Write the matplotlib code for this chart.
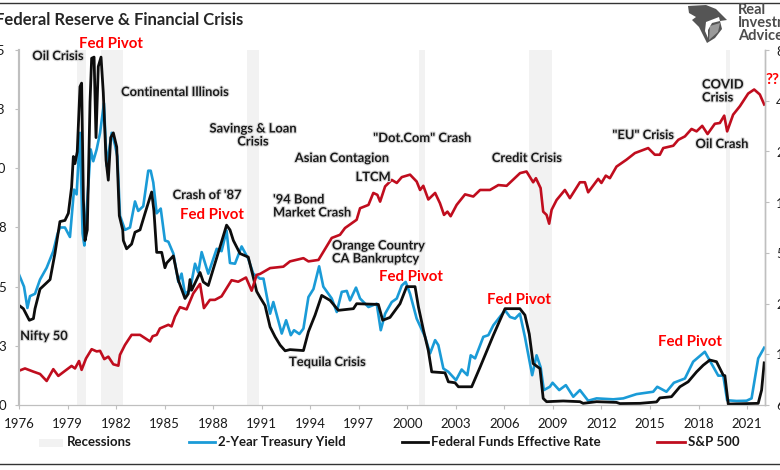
import matplotlib
matplotlib.use('Agg')
import matplotlib.pyplot as plt
import matplotlib.patheffects as pe
from matplotlib.lines import Line2D
from matplotlib.patches import Polygon, Rectangle

plt.rcParams['font.family'] = ['Lato', 'DejaVu Sans']

###------------------------- data -----------------------------------------------###
fed_year = [1976.02, 1976.27, 1976.64, 1976.89, 1976.99, 1977.30, 1977.92, 1978.22, 1978.53, 1978.84,
            1979.05, 1979.25, 1979.36, 1979.46, 1979.60, 1979.77, 1979.87, 1979.98, 1980.08, 1980.22,
            1980.39, 1980.49, 1980.64, 1980.76, 1980.90, 1981.07, 1981.21, 1981.38, 1981.52, 1981.67,
            1981.83, 1982.04, 1982.20, 1982.41, 1982.45, 1982.65, 1982.96, 1983.17, 1983.48, 1983.79,
            1984.20, 1984.34, 1984.51, 1984.82, 1985.02, 1985.13, 1985.54, 1985.85, 1986.26, 1986.46,
            1986.57, 1986.67, 1987.19, 1987.39, 1987.70, 1988.01, 1988.42, 1988.83, 1989.04, 1989.25,
            1989.66, 1990.17, 1990.48, 1990.69, 1990.89, 1991.21, 1991.52, 1991.83, 1992.14, 1992.45,
            1992.75, 1993.58, 1993.89, 1994.30, 1994.71, 1995.23, 1995.74, 1996.67, 1996.87, 1998.21,
            1998.48, 1998.93, 1999.55, 1999.96, 2000.48, 2000.69, 2001.00, 2001.30, 2001.51, 2002.33,
            2002.54, 2002.95, 2003.16, 2003.98, 2004.50, 2005.32, 2006.04, 2006.96, 2007.27, 2007.54,
            2007.78, 2008.20, 2008.40, 2008.61, 2009.64, 2010.67, 2010.87, 2011.70, 2012.93, 2013.14,
            2014.38, 2015.41, 2015.61, 2016.33, 2016.85, 2017.36, 2017.88, 2018.29, 2018.70, 2019.11,
            2019.53, 2019.63, 2019.84, 2021.69, 2021.90, 2022.06]
fed_rate = [4.2, 4.07, 3.58, 3.65, 4.07, 4.9, 5.3, 6.4, 7.75, 7.8,
            8.1, 9.2, 10.5, 10.2, 10.7, 13.45, 13.6, 8.7, 6.95, 7.4,
            12.8, 14.65, 14.7, 11.3, 14.3, 14.7, 13.2, 10.35, 9.5, 11.3,
            11.5, 10.9, 8.0, 7.4, 6.95, 6.6, 6.8, 7.3, 7.4, 8.1,
            9.0, 8.2, 6.45, 6.45, 5.8, 6.0, 6.3, 5.27, 4.5, 4.7,
            5.3, 4.85, 5.6, 5.2, 5.05, 5.75, 6.67, 7.6, 7.4, 6.95,
            6.4, 6.25, 5.4, 4.8, 4.56, 4.2, 3.3, 2.88, 2.53, 2.29,
            2.34, 2.3, 3.1, 3.8, 4.63, 4.42, 4.0, 4.07, 4.28, 4.25,
            3.58, 3.7, 4.28, 5.0, 5.0, 4.14, 3.16, 2.3, 1.4, 1.36,
            0.98, 0.94, 0.77, 0.77, 1.6, 2.95, 4.07, 4.07, 3.8, 3.0,
            1.75, 1.54, 0.28, 0.14, 0.17, 0.14, 0.07, 0.14, 0.11, 0.06,
            0.07, 0.13, 0.3, 0.35, 0.77, 0.98, 1.4, 1.68, 1.9, 1.83,
            1.26, 1.24, 0.04, 0.07, 0.63, 1.78]

yield_year = [1976.02, 1976.31, 1976.52, 1976.68, 1976.99, 1977.30, 1977.71, 1978.12, 1978.37, 1978.53,
              1978.84, 1979.15, 1979.40, 1979.56, 1979.77, 1979.93, 1980.04, 1980.43, 1980.59, 1980.80,
              1981.01, 1981.25, 1981.42, 1981.73, 1981.93, 1982.08, 1982.24, 1982.55, 1982.86, 1983.17,
              1983.37, 1983.68, 1983.99, 1984.14, 1984.30, 1984.51, 1984.76, 1985.02, 1985.23, 1985.54,
              1985.85, 1986.05, 1986.26, 1986.57, 1986.88, 1987.08, 1987.29, 1987.70, 1988.22, 1988.52,
              1988.83, 1989.04, 1989.35, 1989.76, 1990.17, 1990.48, 1990.89, 1991.11, 1991.52, 1991.72,
              1992.24, 1992.51, 1992.80, 1993.00, 1993.33, 1993.58, 1993.89, 1994.20, 1994.55, 1994.81,
              1995.33, 1995.64, 1995.95, 1996.26, 1996.46, 1996.83, 1997.08, 1997.60, 1998.11, 1998.36,
              1998.63, 1999.04, 1999.35, 1999.66, 1999.90, 2000.17, 2000.58, 2001.10, 2001.41, 2001.72,
              2001.92, 2002.23, 2002.54, 2003.01, 2003.36, 2003.71, 2003.92, 2004.19, 2004.70, 2005.01,
              2005.32, 2006.04, 2006.35, 2006.66, 2006.96, 2007.27, 2007.72, 2007.99, 2008.24, 2008.44,
              2008.81, 2008.98, 2009.39, 2009.80, 2010.26, 2010.67, 2011.18, 2011.70, 2012.73, 2013.35,
              2014.17, 2015.20, 2015.45, 2016.02, 2016.48, 2017.16, 2017.67, 2018.39, 2018.80, 2019.22,
              2019.53, 2019.77, 2020.35, 2020.97, 2021.28, 2021.69, 2022.06]
yield_2y = [5.48, 5.0, 4.1, 4.6, 4.7, 5.3, 5.8, 6.5, 7.2, 7.5,
            7.5, 7.1, 9.1, 8.9, 11.5, 7.25, 6.74, 10.8, 10.3, 10.8,
            11.5, 12.75, 10.1, 11.5, 11.0, 10.5, 8.0, 7.4, 7.5, 8.6,
            8.2, 8.4, 9.9, 9.9, 9.4, 8.1, 8.3, 6.95, 6.9, 6.4,
            5.2, 5.55, 4.7, 4.85, 5.97, 5.6, 6.46, 5.55, 6.6, 6.5,
            7.37, 6.0, 5.97, 6.7, 6.18, 5.55, 5.34, 5.34, 3.86, 4.35,
            3.02, 3.58, 2.95, 3.16, 3.0, 3.23, 4.56, 4.9, 5.86, 5.0,
            4.5, 3.93, 4.78, 4.82, 4.42, 4.96, 4.5, 4.14, 4.28, 3.16,
            3.86, 4.35, 4.5, 5.05, 5.2, 4.7, 3.65, 2.88, 2.18, 2.74,
            2.53, 1.54, 1.4, 1.05, 1.5, 1.26, 2.1, 1.97, 2.88, 2.95,
            3.37, 4.0, 3.72, 3.65, 3.86, 2.88, 1.26, 2.1, 1.6, 0.63,
            0.77, 0.94, 0.63, 0.84, 0.35, 0.63, 0.18, 0.28, 0.24, 0.28,
            0.46, 0.56, 0.77, 0.56, 0.94, 1.12, 1.83, 2.25, 1.75, 1.24,
            1.24, 0.2, 0.17, 0.18, 0.28, 1.97, 2.42]

spx_year = [1976.02, 1976.37, 1976.89, 1977.30, 1977.71, 1978.12, 1978.43, 1978.84, 1979.25, 1979.46,
            1979.71, 1979.87, 1980.14, 1980.49, 1980.80, 1981.01, 1981.27, 1981.52, 1981.83, 1982.14,
            1982.24, 1982.55, 1982.96, 1983.48, 1984.10, 1984.26, 1984.51, 1984.71, 1985.23, 1985.43,
            1985.64, 1985.95, 1986.36, 1986.77, 1987.19, 1987.43, 1987.80, 1988.11, 1988.52, 1989.14,
            1989.55, 1990.03, 1990.38, 1990.69, 1990.90, 1991.52, 1992.34, 1992.75, 1993.58, 1993.89,
            1994.51, 1995.33, 1995.84, 1996.15, 1996.87, 1997.08, 1997.60, 1997.90, 1998.15, 1998.32,
            1998.63, 1999.04, 1999.35, 1999.66, 2000.17, 2000.58, 2000.79, 2000.99, 2001.30, 2001.72,
            2002.02, 2002.27, 2002.48, 2002.68, 2003.05, 2003.57, 2004.08, 2004.50, 2005.11, 2005.63,
            2006.14, 2006.97, 2007.37, 2007.78, 2007.95, 2008.24, 2008.40, 2008.61, 2008.77, 2008.92,
            2009.23, 2009.74, 2010.05, 2010.67, 2010.98, 2011.18, 2011.80, 2012.00, 2012.27, 2012.52,
            2012.93, 2013.55, 2014.07, 2014.89, 2015.30, 2015.61, 2015.82, 2016.44, 2016.75, 2017.16,
            2017.57, 2017.88, 2018.23, 2018.56, 2019.01, 2019.32, 2019.59, 2019.77, 2020.14, 2020.56,
            2021.07, 2021.44, 2021.79, 2022.06]
spx = [100, 103, 98.6, 95.5, 86.8, 102, 93, 99.6, 106.6, 103,
       114, 101, 118, 134, 130, 131, 117, 121, 109, 107,
       124, 142, 163, 163, 149, 160, 163, 178, 187, 183,
       209, 238, 231, 287, 327, 235, 263, 263, 276, 344,
       337, 357, 298, 370, 375, 406, 414, 445, 465, 445,
       454, 613, 640, 702, 786, 920, 963, 1134, 1105, 1007,
       1240, 1355, 1300, 1408, 1456, 1325, 1181, 1250, 1037, 1134,
       985, 840, 878, 825, 963, 1112, 1080, 1181, 1181, 1263,
       1250, 1487, 1520, 1312, 1387, 1212, 878, 840, 745, 900,
       1030, 1181, 1056, 1312, 1312, 1144, 1375, 1300, 1437, 1387,
       1625, 1787, 1956, 2094, 1912, 1912, 2094, 2162, 2344, 2456,
       2719, 2631, 2837, 2537, 2919, 2950, 3262, 2631, 3306, 3712,
       4412, 4662, 4356, 3800]

recession_start = [1979.60, 1981.07, 1990.09, 2000.73, 2007.52, 2019.67]
recession_end = [1980.12, 1982.45, 1990.83, 2001.10, 2008.96, 2019.94]

year_ticks = list(range(1976, 2022, 3))
rate_ticks = [0, 2.5, 5, 7.5, 10, 12.5, 15]
rate_labels = ['0', '3', '5', '8', '10', '13', '15']
spx_ticks = [62.5, 125, 250, 500, 1000, 2000, 4000, 8000]
spx_labels = ['63', '125', '250', '500', '1,000', '2,000', '4,000', '8,000']

blue, black, red = '#1a9bd7', '#0d0d0d', '#c00d1e'
grey_axis = '#bfbfbf'
text_col = '#1a1a1a'

###------------------------- figure --------------------------###
W, H = 780, 470
fig = plt.figure(figsize=(W / 100, H / 100), dpi=100)
ax = fig.add_axes([19 / W, (H - 405) / H, 746 / W, 355 / H])
ax2 = ax.twinx()
ax.set_zorder(1)
ax2.set_zorder(2)
ax.patch.set_visible(False)
ax2.patch.set_visible(False)

for s, e in zip(recession_start, recession_end):
    ax.axvspan(s, e, color='#f2f2f2', lw=0, zorder=0)

ax.plot(yield_year, yield_2y, color=blue, lw=1.9, zorder=2, solid_joinstyle='round')
ax.plot(fed_year, fed_rate, color=black, lw=2.0, zorder=3, solid_joinstyle='round')
ax2.plot(spx_year, spx, color=red, lw=1.9, solid_joinstyle='round')

ax.set_xlim(1976, 2022.11)
ax.set_ylim(0, 15)
ax.set_xticks(year_ticks)
ax.set_yticks(rate_ticks)
ax.set_yticklabels(rate_labels)
ax2.set_yscale('log', base=2)
ax2.set_ylim(62.5, 8000)
ax2.set_yticks(spx_ticks)
ax2.set_yticklabels(spx_labels)
ax2.minorticks_off()

ax.tick_params(axis='x', length=3, width=0.8, color=grey_axis, pad=6, labelsize=9.5, labelcolor=text_col)
ax.tick_params(axis='y', length=3, width=0.8, color=grey_axis, pad=6.5, labelsize=9.5, labelcolor=text_col)
ax2.tick_params(axis='y', length=3, width=0.8, color=grey_axis, pad=5, labelsize=9.5, labelcolor=text_col)
for a in (ax, ax2):
    a.spines['top'].set_visible(False)
    a.spines['bottom'].set_color(grey_axis)
    a.spines['left'].set_color(grey_axis)
    a.spines['right'].set_color(grey_axis)
    a.spines['left'].set_linewidth(1.5)
    a.spines['right'].set_linewidth(1.0)


def px(x, y):
    return x / W, 1 - y / H


###------------------------- annotations --------------------------###
shadow = [pe.withStroke(linewidth=1.6, foreground='#d9d9d9')]
notes = [
    ('Oil Crisis', 58, 56, 'center'),
    ('Continental Illinois', 175, 92, 'center'),
    ('Savings & Loan\nCrisis', 253, 135, 'center'),
    ("Crash of '87", 207, 195, 'center'),
    ('Nifty 50', 44, 336, 'center'),
    ('Asian Contagion', 342, 158, 'center'),
    ('LTCM', 373, 177, 'center'),
    ("'94 Bond\nMarket Crash", 273, 206, 'left'),
    ('"Dot.Com" Crash', 422, 138, 'center'),
    ('Orange Country\nCA Bankruptcy', 332, 252, 'left'),
    ('Tequila Crisis', 289, 362, 'left'),
    ('Credit Crisis', 527, 158, 'center'),
    ('"EU" Crisis', 643, 135, 'center'),
    ('COVID\nCrisis', 702, 91, 'left'),
    ('Oil Crash', 722, 144, 'center'),
]
for label, x, y, ha in notes:
    fig.text(*px(x, y), label, ha=ha, va='center', fontsize=9.3, fontweight='bold', color=text_col,
             linespacing=1.1, path_effects=shadow, zorder=10)

pivots = [(111, 44), (212, 215), (411, 277), (519, 300), (690, 342)]
for x, y in pivots:
    fig.text(*px(x, y), 'Fed Pivot', ha='center', va='center', fontsize=10.8, fontweight='bold',
             color='#ff0000', zorder=10)
fig.text(*px(766, 80), '??', ha='left', va='center', fontsize=11, fontweight='bold', color='#ff0000', zorder=10)

fig.text(*px(-5, 20), 'Federal Reserve & Financial Crisis', ha='left', va='center', fontsize=12,
         fontweight='bold', color='#262626')

###------------------------- legend --------------------------###
fig.add_artist(Rectangle(px(39, 447), 24 / W, 8 / H, transform=fig.transFigure, color='#f2f2f2', lw=0))
fig.text(*px(67, 442), 'Recessions', va='center', fontsize=9.5, fontweight='bold', color=text_col)
legend_items = [(189, 215, blue, '2-Year Treasury Yield'),
                (402, 428, black, 'Federal Funds Effective Rate'),
                (657, 685, red, 'S&P 500')]
for x0, x1, col, label in legend_items:
    fig.add_artist(Line2D([x0 / W, x1 / W], [1 - 442 / H] * 2, color=col, lw=2.0, transform=fig.transFigure))
    fig.text(*px(x1 + 3, 442), label, va='center', fontsize=9.5, fontweight='bold', color=text_col)

# frame lines top and bottom
for y in (3, 463.5):
    fig.add_artist(Line2D([0, 1], [1 - y / H] * 2, color='#333333', lw=1.0, transform=fig.transFigure))

###------------------------- logo --------------------------###
bird = [(688, 6), (706, 5), (716, 9), (727, 20), (720, 21), (722, 29), (715, 38), (707, 43),
        (703, 35), (699, 27), (692, 20), (696, 17), (689, 13)]
fig.add_artist(Polygon([px(*p) for p in bird], closed=True, transform=fig.transFigure, color='#555555', lw=0))
gap = [(706, 22), (719, 17), (720, 21), (712, 23), (708, 30), (708, 38), (705, 31)]
fig.add_artist(Polygon([px(*p) for p in gap], closed=True, transform=fig.transFigure, color='#ffffff', lw=0))
lower = [(710, 26), (720, 23), (718, 32), (709, 40)]
fig.add_artist(Polygon([px(*p) for p in lower], closed=True, transform=fig.transFigure, color='#9a9a9a', lw=0))
fig.text(*px(738, 23), 'Real\nInvestment\nAdvice', ha='left', va='center', fontsize=10.5, fontweight='bold',
         color='#4d4d4d', linespacing=0.88)

fig.savefig('out.png', dpi=100)
